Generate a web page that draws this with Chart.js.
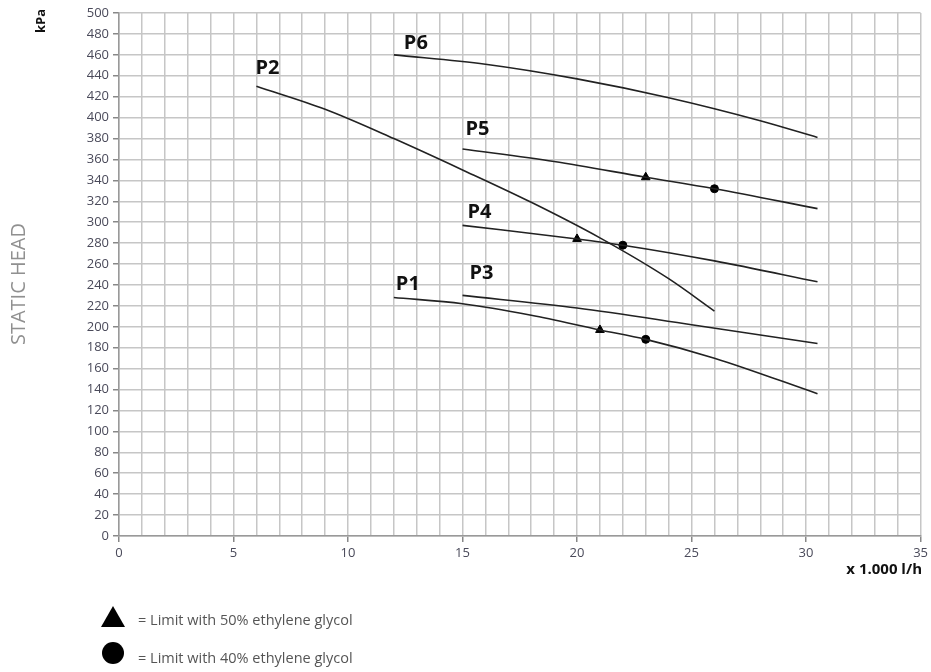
<!DOCTYPE html>
<html>
<head>
<meta charset="utf-8">
<script src="https://cdn.jsdelivr.net/npm/chart.js@4.4.1/dist/chart.umd.min.js"></script>
<style>
  html, body { margin: 0; padding: 0; background: #fff; }
  #wrap { width: 931px; height: 672px; position: relative; }
</style>
</head>
<body>
<div id="wrap"><canvas id="canvas" width="931" height="672"></canvas></div>
<script>
// pump curves: flow (x 1.000 l/h) -> static head (kPa)
const p1x = [12, 15, 18, 21, 23, 26, 30.5]
const p1y = [228, 222, 211, 197, 188, 170, 136]
const p2x = [6, 9, 12, 15, 18, 21, 24, 26]
const p2y = [430, 408, 380, 350, 319, 285, 246, 215]
const p3x = [15, 20, 25, 30.5]
const p3y = [230, 218, 202, 184]
const p4x = [15, 20, 22, 26, 30.5]
const p4y = [297, 284, 278, 263, 243]
const p5x = [15, 19, 23, 26, 30.5]
const p5y = [370, 358, 343, 332, 313]
const p6x = [12, 16, 20, 24, 28, 30.5]
const p6y = [460, 451, 437, 419, 397, 381]

// limit markers
const glycol50x = [21, 20, 23]
const glycol50y = [197, 284, 343]
const glycol40x = [23, 22, 26]
const glycol40y = [188, 278, 332]

const curveNames = ['P1', 'P2', 'P3', 'P4', 'P5', 'P6']
const yTicks = { min: 0, max: 500, step: 20 }
const xTicks = { min: 0, max: 35, step: 1, labelEvery: 5 }

const pts = (xs, ys) => xs.map((x, i) => ({ x: x, y: ys[i] }))

const curves = [pts(p1x, p1y), pts(p2x, p2y), pts(p3x, p3y), pts(p4x, p4y), pts(p5x, p5y), pts(p6x, p6y)]
// where the name sits relative to the first point of each curve (pixels)
const nameOffset = [[14, -13], [11, -18], [19, -22], [17, -13], [15, -20], [22, -12]]

const datasets = curves.map((c, i) => ({
    label: curveNames[i],
    data: c,
    borderColor: '#222',
    borderWidth: 1.6,
    pointRadius: 0,
    cubicInterpolationMode: 'monotone',
    showLine: true,
    fill: false,
}))
datasets.push({
    label: '50%',
    data: pts(glycol50x, glycol50y),
    pointStyle: 'triangle',
    pointRadius: 5,
    backgroundColor: '#000',
    borderColor: '#000',
    showLine: false,
})
datasets.push({
    label: '40%',
    data: pts(glycol40x, glycol40y),
    pointStyle: 'circle',
    pointRadius: 4,
    backgroundColor: '#000',
    borderColor: '#000',
    showLine: false,
})

const decor = {
    id: 'decor',
    afterDatasetsDraw(chart) {
        const ctx = chart.ctx
        const xs = chart.scales.x, ys = chart.scales.y
        ctx.save()
        // curve names
        ctx.fillStyle = '#111'
        ctx.font = 'bold 20px "Open Sans", sans-serif'
        ctx.textAlign = 'center'
        ctx.textBaseline = 'middle'
        curves.forEach((c, i) => {
            const px = xs.getPixelForValue(c[0].x) + nameOffset[i][0]
            const py = ys.getPixelForValue(c[0].y) + nameOffset[i][1]
            ctx.fillText(curveNames[i], px, py)
        })
        // kPa
        ctx.save()
        ctx.translate(41, 21)
        ctx.rotate(-Math.PI / 2)
        ctx.font = 'bold 13px "Open Sans", sans-serif'
        ctx.fillStyle = '#111'
        ctx.fillText('kPa', 0, 0)
        ctx.restore()
        // STATIC HEAD
        ctx.save()
        ctx.translate(19, 284)
        ctx.rotate(-Math.PI / 2)
        ctx.font = '20px "Open Sans", sans-serif'
        ctx.fillStyle = '#909090'
        ctx.fillText('STATIC HEAD', 0, 0)
        ctx.restore()
        // x unit
        ctx.font = 'bold 15px "Open Sans", sans-serif'
        ctx.fillStyle = '#111'
        ctx.textAlign = 'right'
        ctx.fillText('x 1.000 l/h', 922, 570)
        // legend
        ctx.fillStyle = '#000'
        ctx.beginPath()
        ctx.moveTo(113, 606)
        ctx.lineTo(125, 627)
        ctx.lineTo(101, 627)
        ctx.closePath()
        ctx.fill()
        ctx.beginPath()
        ctx.arc(113, 653, 11, 0, Math.PI * 2)
        ctx.fill()
        ctx.font = '14.5px "Open Sans", sans-serif'
        ctx.fillStyle = '#555'
        ctx.textAlign = 'left'
        ctx.fillText('= Limit with 50% ethylene glycol', 138, 621)
        ctx.fillText('= Limit with 40% ethylene glycol', 138, 659)
        ctx.restore()
    }
}

const config = {
    type: 'scatter',
    data: { datasets: datasets },
    options: {
        responsive: false,
        animation: false,
        layout: { padding: { left: 0, top: 13, right: 8, bottom: 0 } },
        plugins: { legend: { display: false }, tooltip: { enabled: false } },
        scales: {
            x: {
                type: 'linear',
                min: xTicks.min,
                max: xTicks.max,
                afterFit: (s) => { s.height = 136 },
                ticks: {
                    stepSize: xTicks.step,
                    autoSkip: false,
                    maxRotation: 0,
                    color: '#4a4a5a',
                    font: { family: '"Open Sans", sans-serif', size: 13 },
                    padding: 3,
                    callback: (v) => (v % xTicks.labelEvery === 0 ? v : ''),
                },
                grid: {
                    color: '#c6c6c6',
                    lineWidth: 1.5,
                    tickLength: 6,
                    tickColor: (c) => (c.tick && c.tick.value % xTicks.labelEvery === 0 ? '#888' : 'rgba(0,0,0,0)'),
                },
                border: { color: '#999', width: 1.5 },
            },
            y: {
                type: 'linear',
                min: yTicks.min,
                max: yTicks.max,
                afterFit: (s) => { s.width = 119 },
                ticks: {
                    stepSize: yTicks.step,
                    autoSkip: false,
                    color: '#4a4a5a',
                    font: { family: '"Open Sans", sans-serif', size: 13 },
                    padding: 4,
                },
                grid: {
                    color: '#c6c6c6',
                    lineWidth: 1.5,
                    tickLength: 6,
                    tickColor: '#888',
                },
                border: { color: '#999', width: 1.5 },
            },
        },
    },
    plugins: [decor],
}

const canvas = document.getElementById('canvas')
const chart = new Chart(canvas, config)
</script>
</body>
</html>
